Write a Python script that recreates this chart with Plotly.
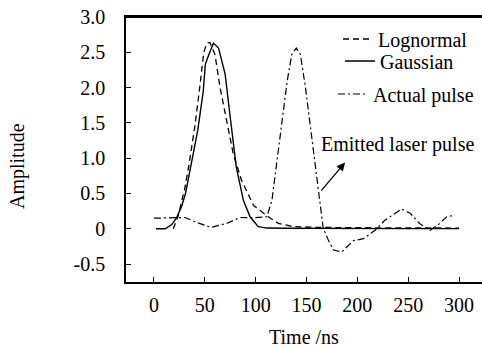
import plotly.graph_objects as go

# ---- data ----
t_gauss = [2, 11, 17.5, 22, 27, 31, 36, 43, 48.5, 50.5, 54, 58.5, 63.5, 70, 75, 81, 88, 94.5, 102.5, 111, 130, 160, 200, 250, 300]
gauss = [0, 0, 0.06, 0.15, 0.31, 0.5, 0.87, 1.39, 1.95, 2.33, 2.47, 2.63, 2.56, 2.19, 1.58, 0.87, 0.40, 0.17, 0.03, 0.01, 0.008, 0.005, 0.003, 0.002, 0.002]

t_logn = [19, 24, 27, 30, 34, 40, 45, 49, 52, 55, 60, 65, 71.5, 78, 86, 98, 112.5, 122.5, 137, 160, 200, 250, 300]
logn = [0, 0.19, 0.38, 0.55, 0.87, 1.43, 2.0, 2.5, 2.63, 2.64, 2.47, 2.0, 1.53, 1.06, 0.69, 0.33, 0.17, 0.075, 0.03, 0.02, 0.015, 0.012, 0.01]

t_act = [0, 19, 30.5, 42, 56, 71.5, 84.5, 98, 111, 116, 121, 126, 131, 135.5, 140, 144, 149, 154, 158, 162.5, 166.5, 171.5, 176.5, 184.5, 196, 206, 217.5, 227, 243.5, 252, 261.5, 271.5, 281, 288, 295]
act = [0.15, 0.15, 0.16, 0.09, 0.02, 0.075, 0.16, 0.155, 0.17, 0.40, 0.97, 1.53, 2.09, 2.47, 2.56, 2.47, 2.0, 1.43, 0.97, 0.40, 0.0, -0.16, -0.30, -0.33, -0.17, -0.14, -0.02, 0.12, 0.28, 0.22, 0.07, -0.02, 0.075, 0.17, 0.19]

x_ticks = [0, 50, 100, 150, 200, 250, 300]
y_ticks = [-0.5, 0, 0.5, 1.0, 1.5, 2.0, 2.5, 3.0]
y_tick_text = ["-0.5", "0", "0.5", "1.0", "1.5", "2.0", "2.5", "3.0"]

FONT = "Liberation Serif, Times New Roman, serif"
FS = 20

fig = go.Figure()
fig.add_trace(go.Scatter(x=t_logn, y=logn, mode="lines", name="Lognormal",
                         line=dict(color="black", width=1.3, dash="6px,4px"), legend="legend"))
fig.add_trace(go.Scatter(x=t_gauss, y=gauss, mode="lines", name="Gaussian",
                         line=dict(color="black", width=1.4), legend="legend2"))
fig.add_trace(go.Scatter(x=t_act, y=act, mode="lines", name="Actual pulse",
                         line=dict(color="black", width=1.2, dash="7px,3px,2px,3px"), legend="legend3"))

W, H = 482, 348
L, R, T, B = 126, 0, 17, 66
pw, ph = W - L - R, H - T - B

def px2paper(px, py):
    return (px - L) / pw, (H - B - py) / ph

leg_common = dict(font=dict(family=FONT, size=FS, color="black"), bgcolor="rgba(0,0,0,0)",
                  xanchor="left", yanchor="middle", itemwidth=30, tracegroupgap=0)
lx1, ly1 = px2paper(338, 39)
lx2, ly2 = px2paper(340, 61)
lx3, ly3 = px2paper(333, 94)

fig.update_layout(
    width=W, height=H,
    margin=dict(l=L, r=R, t=T, b=B),
    paper_bgcolor="white", plot_bgcolor="white",
    font=dict(family=FONT, size=FS, color="black"),
    showlegend=True,
    legend=dict(x=lx1, y=ly1, **leg_common),
    legend2=dict(x=lx2, y=ly2, **leg_common),
    legend3=dict(x=lx3, y=ly3, **leg_common),
    xaxis=dict(range=[-27.5, 322.6], tickvals=x_ticks, ticks="inside", ticklen=5, tickwidth=1.2,
               tickcolor="black", showline=True, linecolor="black", linewidth=1.5, mirror=True,
               showgrid=False, zeroline=False, ticklabelstandoff=4,
               tickfont=dict(family=FONT, size=FS, color="black")),
    yaxis=dict(range=[-0.754, 3.0], tickvals=y_ticks, ticktext=y_tick_text, ticks="inside",
               ticklen=5, tickwidth=1.2, tickcolor="black", showline=True, linecolor="black",
               linewidth=1.5, showgrid=False, zeroline=False, ticklabelstandoff=15,
               tickfont=dict(family=FONT, size=FS, color="black")),
)

# top frame line
fig.add_shape(type="line", xref="paper", yref="paper", x0=0, x1=1, y0=1, y1=1,
              line=dict(color="black", width=1.8))

# axis titles
ax_x, ax_y = px2paper(304, 337)
fig.add_annotation(text="Time /ns", xref="paper", yref="paper", x=ax_x, y=ax_y,
                   showarrow=False, xanchor="center", yanchor="middle",
                   font=dict(family=FONT, size=FS, color="black"))
ay_x, ay_y = px2paper(17, 166)
fig.add_annotation(text="Amplitude", xref="paper", yref="paper", x=ay_x, y=ay_y, textangle=-90,
                   showarrow=False, xanchor="center", yanchor="middle",
                   font=dict(family=FONT, size=FS, color="black"))

# arrow + label
fig.add_annotation(x=188, y=0.94, ax=163.3, ay=0.52, xref="x", yref="y", axref="x", ayref="y",
                   text="", showarrow=True, arrowhead=2, arrowsize=1.3, arrowwidth=1.3,
                   arrowcolor="black")
fig.add_annotation(text="Emitted laser pulse", x=162, y=1.2, xref="x", yref="y",
                   showarrow=False, xanchor="left", yanchor="middle",
                   font=dict(family=FONT, size=FS, color="black"))

fig.write_html("out.html", config={"displayModeBar": False})
